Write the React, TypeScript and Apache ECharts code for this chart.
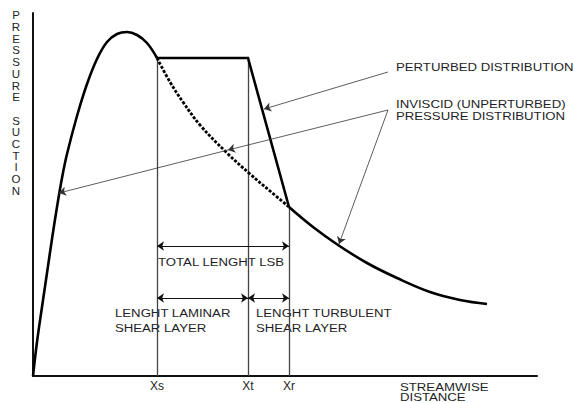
import React, { useEffect, useRef } from "react";
import * as echarts from "echarts";

// Data space: x = streamwise distance, y = pressure suction (arbitrary units)
const xMarks = [124, 215, 256];
const xTickLabels = ["Xs", "Xt", "Xr"];

const risingCurve = [
  [0, 0], [4, 34], [9, 69], [14, 103], [19, 137], [24, 169], [29, 198], [34, 222], [44, 260],
  [54, 292], [64, 317], [74, 334], [84, 342], [94, 344], [104, 341], [114, 333], [124, 318],
];
const perturbedPlateau = [[124, 318], [215, 318], [256, 169]];
const descendingCurve = [
  [256, 169], [280, 149], [305, 131], [334, 113], [364, 98], [397, 84], [427, 76], [454, 72],
];
const inviscidDashed = [
  [124, 318], [137, 294], [150, 274], [167, 251], [194, 223], [217, 202], [237, 185], [256, 169],
];

const verticalLines = [
  [[124, 318], [124, 0]],
  [[215, 318], [215, 0]],
  [[256, 169], [256, 0]],
];
const dimensionLines = [
  [[124, 130], [256, 130]],
  [[124, 78], [215, 78]],
  [[215, 78], [256, 78]],
];
const leaderLines = [
  [[355, 304], [231, 267]],
  [[355, 266], [195, 226]],
  [[195, 226], [26, 183]],
  [[355, 266], [306, 132]],
];

const FONT = '"Liberation Sans", Arial, Helvetica, sans-serif';
const TXT = "#1e1e26";

function label(text: string, x: number, y: number) {
  return {
    type: "text",
    x,
    y,
    scaleX: 1.2,
    style: {
      text,
      fontSize: 11,
      fontFamily: FONT,
      fill: TXT,
      align: "left",
      verticalAlign: "middle",
    },
  };
}

export default function App() {
  const ref = useRef<HTMLDivElement>(null);
  useEffect(() => {
    document.body.style.margin = "0";
    const chart = echarts.init(ref.current!, null, { renderer: "svg" });
    chart.setOption({
      animation: false,
      backgroundColor: "#ffffff",
      grid: { left: 33, right: 36, top: 13, bottom: 27, outerBoundsMode: "none" },
      xAxis: {
        type: "value",
        min: 0,
        max: 504,
        splitLine: { show: false },
        axisTick: { show: false },
        axisLine: { show: true, onZero: false, lineStyle: { color: "#111", width: 2 } },
        axisLabel: {
          customValues: xMarks,
          formatter: (v: number) => {
            const i = xMarks.indexOf(v);
            return i >= 0 ? xTickLabels[i] : "";
          },
          fontSize: 12,
          fontFamily: FONT,
          color: TXT,
          margin: 4,
        },
      },
      yAxis: {
        type: "value",
        min: 0,
        max: 363,
        splitLine: { show: false },
        axisTick: { show: false },
        axisLabel: { show: false },
        axisLine: { show: true, onZero: false, lineStyle: { color: "#111", width: 2 } },
      },
      series: [
        {
          type: "line",
          data: risingCurve,
          smooth: 0.4,
          showSymbol: false,
          lineStyle: { color: "#000", width: 2.6 },
          z: 3,
        },
        {
          type: "line",
          data: perturbedPlateau,
          smooth: false,
          showSymbol: false,
          lineStyle: { color: "#000", width: 2.6, join: "miter" },
          z: 3,
        },
        {
          type: "line",
          data: descendingCurve,
          smooth: 0.4,
          showSymbol: false,
          lineStyle: { color: "#000", width: 2.6 },
          z: 3,
        },
        {
          type: "line",
          data: inviscidDashed,
          smooth: 0.4,
          showSymbol: false,
          lineStyle: { color: "#000", width: 2.8, type: [3, 1.6] },
          z: 3,
        },
        {
          type: "lines",
          coordinateSystem: "cartesian2d",
          data: verticalLines.map((c) => ({ coords: c })),
          symbol: ["none", "none"],
          lineStyle: { color: "#444", width: 1.3, opacity: 1 },
          z: 2,
        },
        {
          type: "lines",
          coordinateSystem: "cartesian2d",
          data: dimensionLines.map((c) => ({ coords: c })),
          symbol: ["arrow", "arrow"],
          symbolSize: 7,
          lineStyle: { color: "#111", width: 1, opacity: 1 },
          itemStyle: { color: "#111" },
          z: 4,
        },
        {
          type: "lines",
          coordinateSystem: "cartesian2d",
          data: leaderLines.map((c) => ({ coords: c })),
          symbol: ["none", "arrow"],
          symbolSize: 7,
          lineStyle: { color: "#333", width: 0.8, opacity: 1 },
          itemStyle: { color: "#111" },
          z: 4,
        },
      ],
      graphic: [
        {
          type: "text",
          x: 16,
          y: 9.8,
          scaleX: 1.15,
          style: {
            text: "P\nR\nE\nS\nS\nU\nR\nE\n\nS\nU\nC\nT\nI\nO\nN",
            fontSize: 10,
            lineHeight: 11.7,
            fontFamily: FONT,
            fill: TXT,
            align: "center",
            verticalAlign: "top",
          },
        },
        label("PERTURBED DISTRIBUTION", 396, 67.5),
        label("INVISCID (UNPERTURBED)", 396, 104.5),
        label("PRESSURE DISTRIBUTION", 396, 116.5),
        label("TOTAL LENGHT LSB", 158, 262.5),
        label("LENGHT LAMINAR", 115, 313.8),
        label("SHEAR LAYER", 115, 328.5),
        label("LENGHT TURBULENT", 256, 313.8),
        label("SHEAR LAYER", 256, 328.5),
        label("STREAMWISE", 400, 387),
        label("DISTANCE", 400, 397.5),
      ],
    });
    return () => chart.dispose();
  }, []);
  return <div ref={ref} style={{ width: 573, height: 403, background: "#fff" }} />;
}
